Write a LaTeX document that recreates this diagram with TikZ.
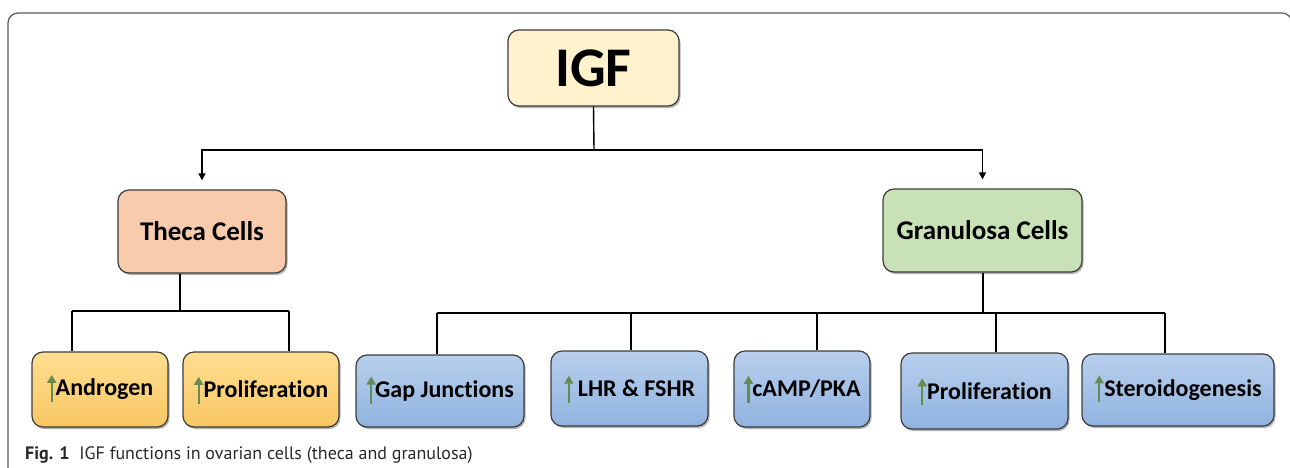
\documentclass[tikz,border=0pt]{standalone}
\usepackage{fontspec}
\setmainfont{Carlito}[Ligatures=NoCommon]
\newfontfamily\capfont{PT Sans}
\usetikzlibrary{shadows,arrows.meta}
\definecolor{frame}{RGB}{90,90,90}
\definecolor{edge}{RGB}{60,60,60}
\definecolor{igffill}{RGB}{255,242,204}
\definecolor{thecafill}{RGB}{248,203,173}
\definecolor{granfill}{RGB}{200,225,182}
\definecolor{orangetop}{RGB}{255,222,145}
\definecolor{orangebot}{RGB}{248,198,98}
\definecolor{bluetop}{RGB}{184,207,236}
\definecolor{bluebot}{RGB}{144,179,224}
\definecolor{arrgreen}{RGB}{100,140,80}
\definecolor{captext}{RGB}{40,40,40}
\begin{document}
\begin{tikzpicture}[x=1pt,y=-1pt,
  box/.style={draw=edge, line width=1.2pt, rounded corners=11pt, font=\bfseries, inner sep=0pt, align=center,
    drop shadow={shadow xshift=1.5pt, shadow yshift=-2pt, opacity=0.3, fill=black}},
  topbox/.style={box, fill=igffill, font=\bfseries\fontsize{56}{60}\selectfont},
  midbox/.style={box, font=\bfseries\fontsize{27}{30}\selectfont},
  orbox/.style={box, top color=orangetop, bottom color=orangebot, font=\bfseries\fontsize{24}{28}\selectfont},
  blbox/.style={box, top color=bluetop, bottom color=bluebot, font=\bfseries\fontsize{24}{28}\selectfont},
  conn/.style={draw=black, line width=1.4pt},
  upg/.style={draw=arrgreen, line width=2.4pt, -{Triangle[length=8pt,width=9pt]}},
]
\useasboundingbox (0,0) rectangle (1290,467);
\begin{scope}
\clip (0,0) rectangle (1290,467);
\draw[frame, line width=1.2pt, rounded corners=10pt] (8,500) -- (8,13) -- (1292,13) -- (1292,500);
\end{scope}

% top level
\node[topbox, minimum width=171pt, minimum height=76pt] (igf) at (593.5,68) {IGF};
\node[midbox, fill=thecafill, minimum width=168pt, minimum height=83pt] (theca) at (202,231.5) {Theca Cells};
\node[midbox, fill=granfill, minimum width=199pt, minimum height=83pt] (gran) at (982.5,230.5) {Granulosa Cells};

% children
\node[orbox, minimum width=136pt, minimum height=75pt] (andro) at (100,389.5) {\hspace*{9pt}Androgen};
\node[orbox, minimum width=156pt, minimum height=75pt] (prolt) at (261,389.5) {\hspace*{10pt}Proliferation};
\node[blbox, minimum width=168pt, minimum height=72pt] (gap) at (440,391) {\hspace*{9pt}Gap Junctions};
\node[blbox, minimum width=157pt, minimum height=75pt] (lhr) at (629.5,388.5) {\hspace*{14pt}LHR \& FSHR};
\node[blbox, minimum width=136pt, minimum height=76pt] (camp) at (802,389) {\hspace*{9pt}cAMP/PKA};
\node[blbox, minimum width=167pt, minimum height=76pt] (prolg) at (984.5,391) {\hspace*{10pt}Proliferation};
\node[blbox, minimum width=192pt, minimum height=72pt] (ster) at (1178,390) {\hspace*{10pt}Steroidogenesis};

% green up arrows
\foreach \n in {andro,prolt,gap,lhr,camp,prolg,ster}{
  \draw[upg] ([xshift=5pt,yshift=-6pt]\n.text) -- ([xshift=5pt,yshift=21pt]\n.text);
}

% connectors top
\coordinate (j0) at (594,150);
\draw[conn] (igf.south) -- (j0);
\draw[conn, -{Triangle[length=7pt,width=7pt]}] (j0) -| ([yshift=9pt]theca.north);
\draw[conn, -{Triangle[length=7pt,width=7pt]}] (j0) -| ([yshift=9pt]gran.north);

% theca branch
\coordinate (tj) at (180,311);
\coordinate (ta) at (72,311);
\coordinate (tb) at (289,311);
\draw[conn] (tj |- theca.south) -- (tj);
\draw[conn] (ta) -- (tb);
\draw[conn] (ta) -- (ta |- andro.north);
\draw[conn] (tb) -- (tb |- prolt.north);

% granulosa branch
\coordinate (gj) at (983,313);
\coordinate (g1) at (437,313);
\coordinate (g2) at (631,313);
\coordinate (g3) at (817,313);
\coordinate (g4) at (996,313);
\coordinate (g5) at (1165,313);
\draw[conn] (gran.south -| gj) -- (gj);
\draw[conn] (g1) -- (g5);
\draw[conn] (g1) -- (g1 |- gap.north);
\draw[conn] (g2) -- (g2 |- lhr.north);
\draw[conn] (g3) -- (g3 |- camp.north);
\draw[conn] (g4) -- (g4 |- prolg.north);
\draw[conn] (g5) -- (g5 |- ster.north);

% caption
\node[anchor=base west, inner sep=0pt, text=captext, font=\capfont\fontsize{18}{20}\selectfont] (cap) at (25,459)
  {\textbf{Fig. 1}\hspace{0.55em}IGF functions in ovarian cells (theca and granulosa)};
\end{tikzpicture}
\end{document}
